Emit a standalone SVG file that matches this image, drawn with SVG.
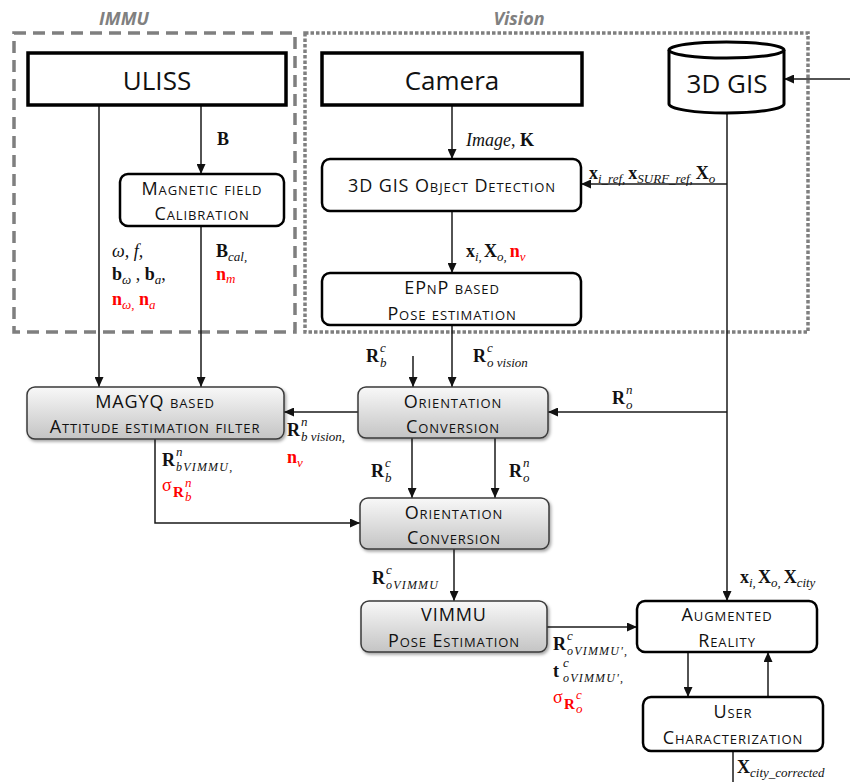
<svg xmlns="http://www.w3.org/2000/svg" width="850" height="782" viewBox="0 0 850 782">
<defs>
<marker id="ah" markerWidth="10" markerHeight="9" refX="10" refY="4.5" orient="auto" markerUnits="userSpaceOnUse"><path d="M0,0 L10,4.5 L0,9 Z" fill="#111"/></marker>
<linearGradient id="gg" x1="0" y1="0" x2="0" y2="1"><stop offset="0" stop-color="#f8f8f8"/><stop offset="1" stop-color="#c4c4c4"/></linearGradient>
<filter id="sh" x="-10%" y="-20%" width="120%" height="150%"><feDropShadow dx="1.5" dy="2" stdDeviation="1.5" flood-color="#000" flood-opacity="0.35"/></filter>
</defs>
<style>
.grp{fill:none;stroke:#7f7f7f;stroke-width:3.5}
.glab{font-family:"Open Sans","Liberation Sans",sans-serif;font-style:italic;font-weight:bold;font-size:18px;fill:#808080;text-anchor:middle}
.big{fill:#fff;stroke:#000;stroke-width:3.5}
.bt{font-family:"Open Sans","Liberation Sans",sans-serif;font-size:26px;fill:#111;text-anchor:middle}
.wb{fill:#fff;stroke:#000;stroke-width:2.5}
.gb{fill:url(#gg);stroke:#3a3a3a;stroke-width:1.5;filter:url(#sh)}
.nt{font-family:"Open Sans","Liberation Sans",sans-serif;font-size:18px;font-variant:small-caps;letter-spacing:0.9px;fill:#111;text-anchor:middle}
.c{fill:none;stroke:#1a1a1a;stroke-width:1.5}
.a{marker-end:url(#ah)}
.m{font-family:"Liberation Serif","Times New Roman",serif;font-size:18px;fill:#111}
.b{font-weight:bold}
.i{font-style:italic}
.s{font-size:13px;font-style:italic;font-weight:normal}
.ss{font-size:12px;font-style:italic;font-weight:normal;letter-spacing:1.2px}
.r{fill:#f00}
</style>

<g id="immu-group">
<rect class="grp" x="14" y="33" width="281" height="299" stroke-dasharray="12 7"/>
<text class="glab" x="124" y="25">IMMU</text>
</g>
<g id="vision-group">
<rect class="grp" x="305" y="33" width="503" height="299" stroke-dasharray="3.5 2"/>
<text class="glab" x="519" y="25">Vision</text>
</g>

<g id="connectors">
<path class="c a" d="M99,105 V387"/>
<path class="c a" d="M201,105 V174"/>
<path class="c a" d="M201,226 V387"/>
<path class="c a" d="M452,105 V159"/>
<path class="c a" d="M452,211 V273"/>
<path class="c a" d="M452,325 V387"/>
<path class="c a" d="M413,356 V387"/>
<path class="c a" d="M727,113 V601"/>
<path class="c a" d="M727,184 H581"/>
<path class="c a" d="M727,412 H548"/>
<path class="c a" d="M850,79 H784"/>
<path class="c a" d="M358,412 H284"/>
<path class="c a" d="M155,439 V523 H360"/>
<path class="c a" d="M412,438 V498"/>
<path class="c a" d="M495,438 V498"/>
<path class="c a" d="M454,549 V601"/>
<path class="c a" d="M547,627 H637"/>
<path class="c a" d="M688,652 V697"/>
<path class="c a" d="M768,697 V652"/>
<path class="c" d="M733,751 V782"/>
</g>

<g id="uliss">
<rect class="big" x="28" y="53" width="258" height="52"/>
<text class="bt" x="157" y="90">ULISS</text>
</g>
<g id="camera">
<rect class="big" x="322" y="53" width="260" height="52"/>
<text class="bt" x="452" y="90">Camera</text>
</g>
<g id="gis">
<path d="M669,50 V104 A57.5,9 0 0 0 784,104 V50 A57.5,8 0 0 0 669,50 Z" fill="#fff" stroke="#000" stroke-width="3"/>
<path d="M669,50 A57.5,8 0 0 0 784,50" fill="none" stroke="#000" stroke-width="3"/>
<text class="bt" x="727" y="93">3D GIS</text>
</g>
<g id="magcal">
<rect class="wb" x="120" y="174" width="164" height="52" rx="8"/>
<text class="nt" x="202" y="195">Magnetic field</text>
<text class="nt" x="202" y="220">Calibration</text>
</g>
<g id="objdet">
<rect class="wb" x="322" y="159" width="259" height="52" rx="8"/>
<text class="nt" x="452" y="192">3D GIS Object Detection</text>
</g>
<g id="epnp">
<rect class="wb" x="322" y="273" width="259" height="52" rx="8"/>
<text class="nt" x="452" y="294">EPnP based</text>
<text class="nt" x="452" y="320">Pose estimation</text>
</g>
<g id="magyq">
<rect class="gb" x="27" y="387" width="257" height="52" rx="8"/>
<text class="nt" x="155" y="408">MAGYQ based</text>
<text class="nt" x="155" y="433">Attitude estimation filter</text>
</g>
<g id="orient1">
<rect class="gb" x="358" y="387" width="190" height="51" rx="8"/>
<text class="nt" x="453" y="408">Orientation</text>
<text class="nt" x="453" y="433">Conversion</text>
</g>
<g id="orient2">
<rect class="gb" x="360" y="498" width="189" height="51" rx="8"/>
<text class="nt" x="454" y="519">Orientation</text>
<text class="nt" x="454" y="544">Conversion</text>
</g>
<g id="vimmu">
<rect class="gb" x="361" y="601" width="186" height="51" rx="8"/>
<text class="nt" x="454" y="621">VIMMU</text>
<text class="nt" x="454" y="647">Pose Estimation</text>
</g>
<g id="ar">
<rect class="wb" x="637" y="601" width="180" height="51" rx="8"/>
<text class="nt" x="727" y="621">Augmented</text>
<text class="nt" x="727" y="647">Reality</text>
</g>
<g id="user">
<rect class="wb" x="643" y="697" width="180" height="54" rx="8"/>
<text class="nt" x="733" y="718">User</text>
<text class="nt" x="733" y="744">Characterization</text>
</g>

<g id="labels">
<text class="m b" x="217" y="145">B</text>
<text class="m i" x="112" y="257">ω, f,</text>
<text class="m" x="112" y="280"><tspan class="b">b</tspan><tspan class="s" dy="4">ω</tspan><tspan dy="-4"> , </tspan><tspan class="b">b</tspan><tspan class="s" dy="4">a</tspan><tspan dy="-4">,</tspan></text>
<text class="m r" x="112" y="305"><tspan class="b">n</tspan><tspan class="s" dy="4">ω,</tspan><tspan dy="-4"> </tspan><tspan class="b">n</tspan><tspan class="s" dy="4" font-size="15">a</tspan></text>
<text class="m" x="216" y="257"><tspan class="b">B</tspan><tspan class="s" dy="4" font-size="15">cal,</tspan></text>
<text class="m r" x="216" y="280"><tspan class="b">n</tspan><tspan class="s" dy="3" font-size="16">m</tspan></text>

<text class="m" x="466" y="146"><tspan class="i">Image</tspan>, <tspan class="b">K</tspan></text>
<text class="m" x="589" y="179"><tspan class="b">x</tspan><tspan class="s" dy="4" font-size="14">i_ref,</tspan><tspan class="b" dy="-4" dx="3">x</tspan><tspan class="s" dy="4" font-size="14">SURF_ref,</tspan><tspan class="b" dy="-4" dx="3">X</tspan><tspan class="s" dy="4" font-size="14">o</tspan></text>
<text class="m" x="466" y="257"><tspan class="b">x</tspan><tspan class="s" dy="4">i,</tspan><tspan class="b" dy="-4" dx="2">X</tspan><tspan class="s" dy="4">o,</tspan><tspan class="b r" dy="-4" dx="3">n</tspan><tspan class="s r" dy="4">v</tspan></text>

<text class="m"><tspan class="b" x="366" y="362">R</tspan><tspan class="s" x="380" y="352">c</tspan><tspan class="s" x="380" y="367">b</tspan></text>
<text class="m"><tspan class="b" x="473" y="362">R</tspan><tspan class="s" x="487" y="352">c</tspan><tspan class="s" x="487" y="367">o vision</tspan></text>
<text class="m"><tspan class="b" x="612" y="404">R</tspan><tspan class="s" x="626" y="394">n</tspan><tspan class="s" x="626" y="409">o</tspan></text>
<text class="m"><tspan class="b" x="287" y="436">R</tspan><tspan class="s" x="301" y="426">n</tspan><tspan class="s" x="301" y="441">b vision,</tspan></text>
<text class="m r" x="287" y="463"><tspan class="b">n</tspan><tspan class="s" dy="4">v</tspan></text>

<text class="m"><tspan class="b" x="162" y="466">R</tspan><tspan class="s" x="176" y="456">n</tspan><tspan class="ss" x="176" y="471">bVIMMU,</tspan></text>
<text class="m r"><tspan x="162" y="491">σ</tspan><tspan class="b" x="173" y="497" font-size="15">R</tspan><tspan class="s" x="185" y="487" font-size="11">n</tspan><tspan class="s" x="185" y="501" font-size="11">b</tspan></text>

<text class="m"><tspan class="b" x="371" y="477">R</tspan><tspan class="s" x="385" y="467">c</tspan><tspan class="s" x="385" y="482">b</tspan></text>
<text class="m"><tspan class="b" x="509" y="477">R</tspan><tspan class="s" x="523" y="467">n</tspan><tspan class="s" x="523" y="482">o</tspan></text>

<text class="m"><tspan class="b" x="372" y="584">R</tspan><tspan class="s" x="386" y="574">c</tspan><tspan class="ss" x="386" y="589">oVIMMU</tspan></text>

<text class="m"><tspan class="b" x="553" y="650">R</tspan><tspan class="s" x="567" y="640">c</tspan><tspan class="ss" x="567" y="655">oVIMMU',</tspan></text>
<text class="m"><tspan class="b" x="553" y="677">t</tspan><tspan class="s" x="563" y="667">c</tspan><tspan class="ss" x="563" y="682">oVIMMU',</tspan></text>
<text class="m r"><tspan x="553" y="703">σ</tspan><tspan class="b" x="564" y="709" font-size="15">R</tspan><tspan class="s" x="576" y="699" font-size="11">c</tspan><tspan class="s" x="576" y="713" font-size="11">o</tspan></text>

<text class="m" x="740" y="583"><tspan class="b">x</tspan><tspan class="s" dy="4">i,</tspan><tspan class="b" dy="-4" dx="2">X</tspan><tspan class="s" dy="4">o,</tspan><tspan class="b" dy="-4" dx="3">X</tspan><tspan class="s" dy="4">city</tspan></text>
<text class="m" x="737" y="773"><tspan class="b">X</tspan><tspan class="s" dy="4" font-size="14">city_corrected</tspan></text>
</g>
</svg>
